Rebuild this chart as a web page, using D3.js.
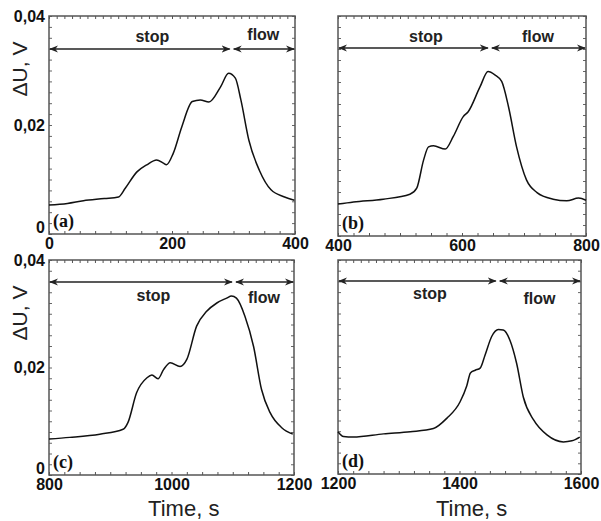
<!DOCTYPE html>
<html>
<head>
<meta charset="utf-8">
<script src="https://cdn.jsdelivr.net/npm/d3@7"></script>
<style>
  body { margin: 0; background: #fff; }
  svg { display: block; }
  .tick text { font-family: Arial, "Liberation Sans", sans-serif; font-weight: bold; font-size: 16px; fill: #111; }
</style>
</head>
<body>
<svg id="chart" width="601" height="521"></svg>
<script>
// panel (a)
var timeA = [0, 30, 56, 90, 113, 124, 143, 159, 175, 186, 191, 202, 216, 233, 246, 260, 279, 292, 303, 312, 325, 342, 361, 383, 399];
var voltA = [0.0053, 0.0056, 0.0061, 0.0065, 0.0068, 0.0084, 0.0114, 0.0127, 0.0136, 0.0130, 0.0127, 0.0148, 0.0197, 0.0243, 0.0246, 0.0242, 0.0270, 0.0295, 0.0286, 0.0246, 0.0172, 0.0117, 0.0081, 0.0068, 0.0062];
// panel (b)
var timeB = [400, 425, 473, 516, 527, 538, 546, 554, 573, 586, 602, 610, 629, 642, 653, 664, 675, 688, 704, 721, 747, 769, 788, 800];
var voltB = [0.0058, 0.0062, 0.0067, 0.0076, 0.0087, 0.0138, 0.0162, 0.0164, 0.0158, 0.0181, 0.0217, 0.0226, 0.0271, 0.0299, 0.0293, 0.0281, 0.0235, 0.0162, 0.0102, 0.0079, 0.0067, 0.0064, 0.0069, 0.0065];
// panel (c)
var timeC = [800, 834, 883, 921, 929, 943, 960, 968, 978, 987, 998, 1014, 1025, 1041, 1057, 1074, 1090, 1098, 1106, 1120, 1134, 1147, 1161, 1180, 1198];
var voltC = [0.0067, 0.0070, 0.0076, 0.0085, 0.0098, 0.0153, 0.0181, 0.0186, 0.0179, 0.0196, 0.0209, 0.0202, 0.0215, 0.0277, 0.0304, 0.0320, 0.0329, 0.0333, 0.0329, 0.0295, 0.0239, 0.0159, 0.0116, 0.0088, 0.0076];
// panel (d)
var timeD = [1200, 1209, 1225, 1275, 1319, 1357, 1379, 1401, 1412, 1418, 1426, 1434, 1442, 1453, 1464, 1472, 1483, 1494, 1505, 1522, 1544, 1571, 1585, 1598];
var voltD = [0.0079, 0.0070, 0.0069, 0.0075, 0.0079, 0.0085, 0.0104, 0.0135, 0.0165, 0.0189, 0.0194, 0.0198, 0.0222, 0.0257, 0.0270, 0.0269, 0.0250, 0.0207, 0.0144, 0.0101, 0.0073, 0.0060, 0.0062, 0.0069];

var xDomains = [[0, 400], [400, 800], [800, 1200], [1200, 1600]];
var xTickValues = [[0, 200, 400], [400, 600, 800], [800, 1000, 1200], [1200, 1400, 1600]];
var yTickValues = [0, 0.02, 0.04];
var stopEnd = [297, 645, 1102, 1463];
var panelLabels = ["(a)", "(b)", "(c)", "(d)"];
var phaseNames = ["stop", "flow"];

var svg = d3.select("#chart");

var defs = svg.append("defs");
defs.append("marker")
    .attr("id", "head")
    .attr("viewBox", "0 0 10 10")
    .attr("refX", 9).attr("refY", 5)
    .attr("markerWidth", 9).attr("markerHeight", 9)
    .attr("markerUnits", "userSpaceOnUse")
    .attr("orient", "auto-start-reverse")
    .append("path")
    .attr("d", "M0,1 L10,5 L0,9 L3,5 Z")
    .attr("fill", "#222");

// layout of each panel frame, plus where its texts sit
var boxes = [
    { x0: 49, x1: 295, y0: 16, y1: 234, arrowY: 49, textY: 42, flowY: 40, yAxis: true, xTitle: false },
    { x0: 338, x1: 586, y0: 16, y1: 236, arrowY: 48, textY: 42, flowY: 42, yAxis: false, xTitle: false },
    { x0: 49, x1: 294, y0: 260, y1: 475, arrowY: 282, textY: 301, flowY: 303, yAxis: true, xTitle: true },
    { x0: 338, x1: 581, y0: 260, y1: 474, arrowY: 281, textY: 299, flowY: 304, yAxis: false, xTitle: true }
];

var series = [[timeA, voltA], [timeB, voltB], [timeC, voltC], [timeD, voltD]];

boxes.forEach(function (b, i) {
    var w = b.x1 - b.x0, h = b.y1 - b.y0;
    var g = svg.append("g").attr("transform", "translate(" + b.x0 + "," + b.y0 + ")");

    var x = d3.scaleLinear().domain(xDomains[i]).range([0, w]);
    var y = d3.scaleLinear().domain([0, 0.04]).range([h, 0]);

    // minor ticks on all four sides, pointing inward
    var d0 = xDomains[i][0];
    g.append("g")
        .attr("transform", "translate(0," + h + ")")
        .call(d3.axisBottom(x).tickValues(d3.range(d0, d0 + 401, 25)).tickSize(-3).tickFormat(""))
        .call(function (s) { s.select(".domain").remove(); s.selectAll("line").attr("stroke", "#555"); });
    g.append("g")
        .call(d3.axisTop(x).tickValues(d3.range(d0, d0 + 401, 12.5)).tickSize(-3).tickFormat(""))
        .call(function (s) { s.select(".domain").remove(); s.selectAll("line").attr("stroke", "#555"); });
    g.append("g")
        .call(d3.axisLeft(y).tickValues(d3.range(0, 0.0401, 0.002)).tickSize(-3).tickFormat(""))
        .call(function (s) { s.select(".domain").remove(); s.selectAll("line").attr("stroke", "#666"); });
    g.append("g")
        .attr("transform", "translate(" + w + ",0)")
        .call(d3.axisRight(y).tickValues(d3.range(0, 0.0401, 0.002)).tickSize(-3).tickFormat(""))
        .call(function (s) { s.select(".domain").remove(); s.selectAll("line").attr("stroke", "#666"); });

    // labelled x axis
    g.append("g")
        .attr("transform", "translate(0," + h + ")")
        .call(d3.axisBottom(x).tickValues(xTickValues[i]).tickSize(0).tickPadding(4).tickFormat(d3.format("d")))
        .call(function (s) { s.select(".domain").remove(); });

    if (b.yAxis) {
        g.append("g")
            .call(d3.axisLeft(y).tickValues(yTickValues).tickSize(0).tickPadding(4)
                .tickFormat(function (v) { return v === 0 ? "0" : d3.format(".2f")(v).replace(".", ","); }))
            .call(function (s) {
                s.select(".domain").remove();
                // the zero label sits a little above the corner
                s.selectAll(".tick").filter(function (v) { return v === 0; })
                    .select("text").attr("dy", "-0.1em");
            });
        svg.append("text")
            .attr("transform", "translate(27," + (b.y0 + 53) + ") rotate(-90)")
            .attr("text-anchor", "middle")
            .style("font-family", "Arial, 'Liberation Sans', sans-serif")
            .style("font-size", "21px")
            .style("fill", "#222")
            .text("\u0394U, V");
    }

    if (b.xTitle) {
        svg.append("text")
            .attr("x", b.x0 + w * 0.55)
            .attr("y", 516)
            .attr("text-anchor", "middle")
            .style("font-family", "Arial, 'Liberation Sans', sans-serif")
            .style("font-size", "22px")
            .style("fill", "#222")
            .text("Time, s");
    }

    // frame
    g.append("rect")
        .attr("width", w).attr("height", h)
        .attr("fill", "none")
        .attr("stroke", "#555")
        .attr("stroke-width", 1.5);

    // stop / flow arrows
    var ay = b.arrowY - b.y0;
    var xb = x(stopEnd[i]);
    g.append("line")
        .attr("x1", 1).attr("x2", xb - 2).attr("y1", ay).attr("y2", ay)
        .attr("stroke", "#222").attr("stroke-width", 1.6)
        .attr("marker-start", "url(#head)").attr("marker-end", "url(#head)");
    g.append("line")
        .attr("x1", xb + 2).attr("x2", w - 1).attr("y1", ay).attr("y2", ay)
        .attr("stroke", "#222").attr("stroke-width", 1.6)
        .attr("marker-start", "url(#head)").attr("marker-end", "url(#head)");

    g.append("text")
        .attr("x", xb / 2 + 12)
        .attr("y", b.textY - b.y0)
        .attr("text-anchor", "middle")
        .style("font-family", "Arial, 'Liberation Sans', sans-serif")
        .style("font-weight", "bold")
        .style("font-size", "16px")
        .style("fill", "#222")
        .text(phaseNames[0]);
    g.append("text")
        .attr("x", (xb + w) / 2)
        .attr("y", b.flowY - b.y0)
        .attr("text-anchor", "middle")
        .style("font-family", "Arial, 'Liberation Sans', sans-serif")
        .style("font-weight", "bold")
        .style("font-size", "16px")
        .style("fill", "#222")
        .text(phaseNames[1]);

    // signal curve
    var pts = d3.zip(series[i][0], series[i][1]);
    var line = d3.line()
        .x(function (d) { return x(d[0]); })
        .y(function (d) { return y(d[1]); })
        .curve(d3.curveMonotoneX);
    g.append("path")
        .attr("d", line(pts))
        .attr("fill", "none")
        .attr("stroke", "#111")
        .attr("stroke-width", 1.5)
        .attr("stroke-linejoin", "round");

    // panel letter
    g.append("text")
        .attr("x", 4)
        .attr("y", h - 7)
        .style("font-family", "'Liberation Serif', 'DejaVu Serif', serif")
        .style("font-weight", "bold")
        .style("font-size", "18px")
        .style("fill", "#111")
        .text(panelLabels[i]);
});
</script>
</body>
</html>
